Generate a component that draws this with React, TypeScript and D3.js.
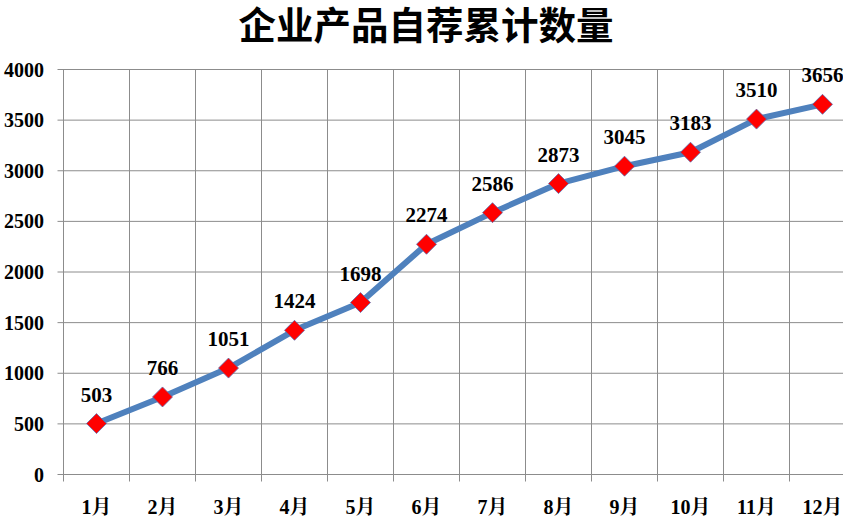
import React from "react";
import * as d3 from "d3";

const months = ["1月", "2月", "3月", "4月", "5月", "6月", "7月", "8月", "9月", "10月", "11月", "12月"];
const values = [503, 766, 1051, 1424, 1698, 2274, 2586, 2873, 3045, 3183, 3510, 3656];
const yTicks = [0, 500, 1000, 1500, 2000, 2500, 3000, 3500, 4000];
const title = "企业产品自荐累计数量";

const W = 843;
const H = 518;
const left = 63.5;
const band = 66;
const top = 69.5;
const bottom = 474.5;

export default function App() {
  const x = d3.scaleBand<string>().domain(months).range([left, left + band * months.length]).padding(0);
  const y = d3.scaleLinear().domain([0, 4000]).range([bottom, top]);
  const line = d3
    .line<number>()
    .x((_, i) => (x(months[i]) as number) + x.bandwidth() / 2)
    .y((d) => y(d));
  const serif = "'Liberation Serif', 'Times New Roman', 'Noto Serif CJK SC', 'Noto Sans CJK SC', serif";
  const grid = "#8c8c8c";
  const xRight = left + band * months.length;
  const m = 10;
  return (
    <svg width={W} height={H} style={{ position: "absolute", left: 0, top: 0, background: "#fff" }}>
      <text x={426} y={22} textAnchor="middle" dominantBaseline="central" fontFamily="'Noto Sans CJK SC', sans-serif" fontWeight="bold" fontSize={37.5}>
        {title}
      </text>
      {yTicks.map((t) => (
        <g key={t}>
          <line x1={left - 6} x2={xRight} y1={y(t)} y2={y(t)} stroke={grid} strokeWidth={1} />
          <text x={44} y={y(t)} textAnchor="end" dominantBaseline="central" fontFamily={serif} fontWeight="bold" fontSize={20}>
            {t}
          </text>
        </g>
      ))}
      {d3.range(months.length + 1).map((i) => (
        <line key={i} x1={left + i * band} x2={left + i * band} y1={top} y2={bottom + 7} stroke={grid} strokeWidth={1} />
      ))}
      {months.map((mo) => (
        <text key={mo} x={(x(mo) as number) + x.bandwidth() / 2} y={507} textAnchor="middle" dominantBaseline="central" fontFamily={serif} fontWeight="bold" fontSize={20}>
          {mo}
        </text>
      ))}
      <path d={line(values) || ""} fill="none" stroke="#4f81bd" strokeWidth={6} strokeLinejoin="round" />
      {values.map((v, i) => {
        const cx = (x(months[i]) as number) + x.bandwidth() / 2;
        const cy = y(v);
        return (
          <g key={i}>
            <path d={`M${cx},${cy - m}L${cx + m},${cy}L${cx},${cy + m}L${cx - m},${cy}Z`} fill="#ff0000" stroke="#5b6fb0" strokeWidth={0.8} />
            <text x={cx} y={cy - 22} textAnchor="middle" fontFamily={serif} fontWeight="bold" fontSize={21}>
              {v}
            </text>
          </g>
        );
      })}
    </svg>
  );
}
